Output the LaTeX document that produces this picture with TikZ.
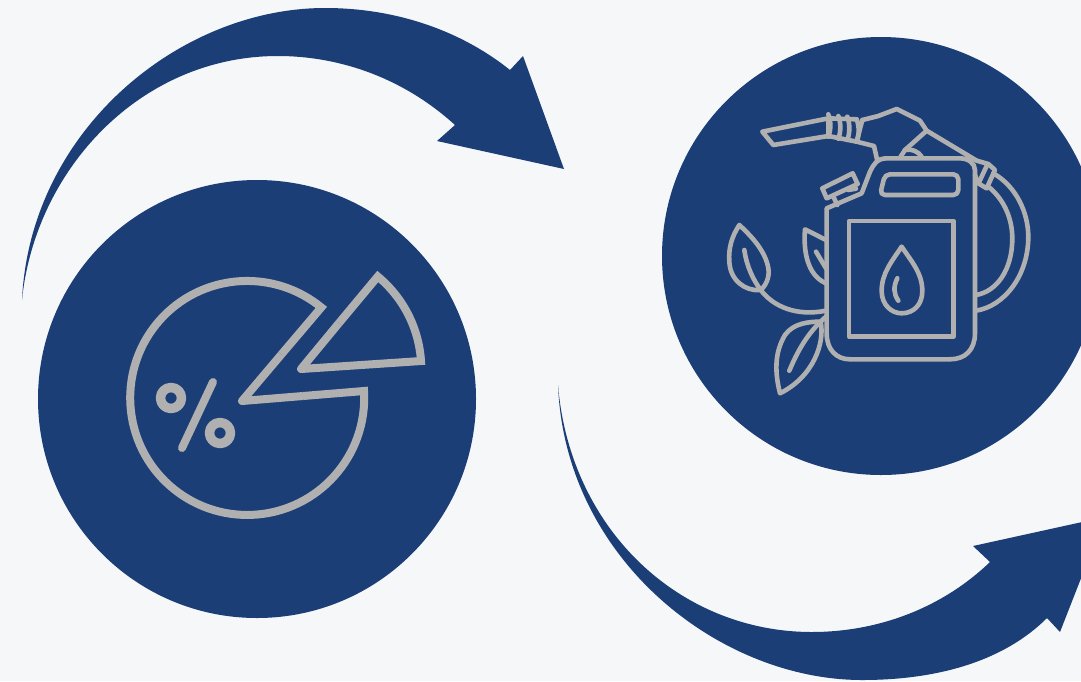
\documentclass[tikz,border=0pt]{standalone}
\definecolor{navy}{HTML}{1C3E77}
\definecolor{paper}{HTML}{F5F7F9}
\definecolor{icongray}{HTML}{B0B0B0}
\tikzset{
	disc/.style={circle, fill=navy, minimum size=438pt, inner sep=0pt},
	swoosh/.style={fill=navy, draw=none},
	pieline/.style={draw=icongray, line width=8pt, line join=round},
	canline/.style={draw=icongray, line width=4.6pt, line join=round, line cap=round}
}
\begin{document}
\begin{tikzpicture}[x=1pt, y=-1pt]
	\useasboundingbox (0,0) rectangle (1081,681);
	\clip (0,0) rectangle (1081,681);
	\fill[paper] (0,0) rectangle (1081,681);
	% discs
	\node (pie)[disc] at (257,399) {};
	\node (can)[disc] at (881,256) {};
	% arrows
	\path[swoosh] (22,300) .. controls (30,130) and (180,8) .. (325,8)
		.. controls (395,8) and (460,30) .. (510,70) -- (523,56) -- (564,169) -- (437,141) -- (455,125)
		.. controls (400,75) and (335,56) .. (278,56)
		.. controls (140,56) and (35,170) .. (22,300) -- cycle;
	\path[swoosh] (558,385) .. controls (565,560) and (720,680) .. (862,680)
		.. controls (940,680) and (1005,660) .. (1047,618) -- (1060,632) -- (1105,517) -- (973,546) -- (990,562)
		.. controls (940,610) and (875,632) .. (812,632)
		.. controls (680,632) and (570,530) .. (558,385) -- cycle;
	% pie chart
	\draw[pieline] (281.5,354.3) -- (242,401) -- (303,396);
	\draw[pieline, line join=miter] (303,396) -- (364,391) arc[start angle=3.4, end angle=-309.3, radius=117pt] -- (281.5,354.3);
	\draw[pieline] (361,365) -- (301,369) -- (339,323);
	\draw[pieline, line join=miter] (361,365) -- (421,361) arc[start angle=3.8, end angle=50.4, radius=120pt] -- (339,323);
	\draw[pieline, line cap=round] (213,382) -- (182,448);
	\draw[pieline, line width=9.5pt] (171,398) circle (10.5pt);
	\draw[pieline, line width=9.5pt] (220,433) circle (10.5pt);
	% fuel can, in zoomed units
	\begin{scope}[shift={(700,90)}, x=.3333pt, y=-.3333pt]
		\draw[canline] (380,355) -- (380,730) .. controls (380,780) and (410,808) .. (450,808) -- (750,808)
			.. controls (795,808) and (825,780) .. (825,730) -- (825,240)
			.. controls (825,220) and (805,205) .. (780,205) -- (560,205)
			.. controls (530,205) and (520,225) .. (510,245) -- (485,310) -- cycle;
		\draw[canline, rounded corners=5pt] (555,253) -- (775,253) -- (775,315) -- (540,315) -- cycle;
		\draw[canline] (447,393) rectangle (760,740);
		% drop
		\draw[canline] (605,470) .. controls (575,515) and (545,550) .. (545,603)
			.. controls (545,645) and (575,670) .. (605,670)
			.. controls (640,670) and (667,645) .. (667,603)
			.. controls (667,550) and (635,515) .. (605,470) -- cycle;
		\draw[canline] (592,565) .. controls (580,590) and (580,610) .. (595,632);
		% cap
		\draw[canline] (367,295) -- (458,250) -- (473,282) -- (380,325) -- cycle;
		\draw[canline] (400,320) -- (412,345);
		\draw[canline] (445,300) -- (468,296);
		% nozzle
		\draw[canline] (187,125) -- (385,85) -- (385,138) -- (220,165) -- cycle;
		\foreach \ringx/\ringa/\ringb in {385/73/140, 415/78/146, 442/80/150, 470/88/155}
			\draw[canline] (\ringx,\ringa) .. controls (\ringx+8,\ringa+20) and (\ringx+8,\ringb-20) .. (\ringx,\ringb);
		\draw[canline] (385,85) -- (470,88) (385,138) -- (470,155);
		\draw[canline] (470,155) -- (522,168) -- (532,212);
		\draw[canline] (487,90) -- (535,78) -- (590,57) -- (660,92) -- (680,122) -- (830,212);
		\draw[canline] (487,90) -- (470,155);
		\draw[canline] (680,122) -- (615,180) -- (602,200);
		\draw[canline] (615,180) .. controls (635,175) and (655,185) .. (665,200);
		% hose
		\draw[canline] (830,212) -- (865,222) -- (885,240) -- (860,295) -- (835,280) -- (825,255);
		\draw[canline] (860,228) -- (838,275);
		\draw[canline] (880,250) .. controls (950,290) and (985,370) .. (985,440)
			.. controls (985,560) and (910,650) .. (828,662);
		\draw[canline] (865,290) .. controls (915,330) and (937,390) .. (937,445)
			.. controls (937,540) and (890,605) .. (828,615);
		% leaves
		\draw[canline] (118,405) .. controls (95,440) and (85,475) .. (88,515)
			.. controls (90,570) and (135,605) .. (182,600)
			.. controls (205,580) and (210,550) .. (203,525)
			.. controls (190,475) and (150,435) .. (118,405) -- cycle;
		\draw[canline] (133,480) .. controls (140,530) and (160,570) .. (182,600)
			.. controls (220,650) and (290,680) .. (378,662);
		\draw[canline] (378,450) -- (315,418) .. controls (310,480) and (320,555) .. (378,580);
		\draw[canline] (348,485) -- (378,535);
		\draw[canline] (240,910) .. controls (225,850) and (222,790) .. (255,735)
			.. controls (280,700) and (325,695) .. (362,695)
			.. controls (375,760) and (340,860) .. (240,910) -- cycle;
		\draw[canline] (268,842) .. controls (290,790) and (320,730) .. (378,680);
	\end{scope}
\end{tikzpicture}
\end{document}
